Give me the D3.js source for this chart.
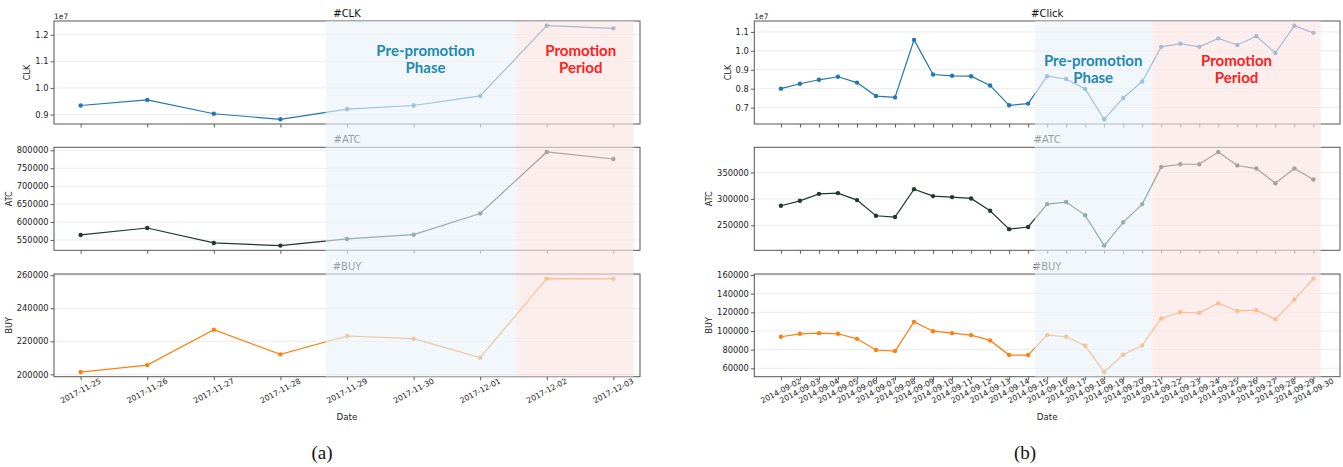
<!DOCTYPE html>
<html><head><meta charset="utf-8">
<script src="https://cdn.jsdelivr.net/npm/d3@7"></script>
<style>body{margin:0;background:#fff;} svg{display:block;}</style>
</head><body>
<svg id="c" width="1343" height="467"></svg>
<script>
// ---------- data ----------
const datesA = ["2017-11-25","2017-11-26","2017-11-27","2017-11-28","2017-11-29","2017-11-30","2017-12-01","2017-12-02","2017-12-03"];
const clkA = [9.34e6, 9.55e6, 9.03e6, 8.82e6, 9.20e6, 9.34e6, 9.70e6, 12.34e6, 12.24e6];
const atcA = [563900, 583300, 541700, 534200, 552800, 564700, 623900, 795300, 775800];
const buyA = [201400, 205600, 227000, 212100, 223200, 221600, 210100, 257900, 257800];

const datesB = ["2014-09-02","2014-09-03","2014-09-04","2014-09-05","2014-09-06","2014-09-07","2014-09-08","2014-09-09","2014-09-10","2014-09-11","2014-09-12","2014-09-13","2014-09-14","2014-09-15","2014-09-16","2014-09-17","2014-09-18","2014-09-19","2014-09-20","2014-09-21","2014-09-22","2014-09-23","2014-09-24","2014-09-25","2014-09-26","2014-09-27","2014-09-28","2014-09-29","2014-09-30"];
const clkB = [8.00e6, 8.26e6, 8.47e6, 8.63e6, 8.32e6, 7.61e6, 7.54e6, 10.58e6, 8.75e6, 8.68e6, 8.66e6, 8.17e6, 7.12e6, 7.21e6, 8.66e6, 8.51e6, 7.98e6, 6.38e6, 7.51e6, 8.38e6, 10.21e6, 10.38e6, 10.21e6, 10.66e6, 10.31e6, 10.77e6, 9.89e6, 11.33e6, 10.95e6];
const atcB = [287000, 296400, 309600, 311000, 297700, 268100, 265700, 318500, 305300, 303400, 300900, 277500, 242700, 246800, 290200, 294000, 268900, 211500, 255700, 290200, 360600, 365700, 365700, 388900, 363200, 357500, 329800, 357500, 336800];
const buyB = [93800, 97000, 97700, 97000, 91600, 79600, 78500, 109800, 99800, 97700, 95600, 89900, 74200, 74200, 95600, 93800, 84100, 56000, 74500, 84600, 113400, 120100, 119400, 129800, 121500, 122300, 112700, 133700, 156100];

const clkTicksA = [0.9e7, 1.0e7, 1.1e7, 1.2e7];
const atcTicksA = [550000, 600000, 650000, 700000, 750000, 800000];
const buyTicksA = [200000, 220000, 240000, 260000];
const clkTicksB = [0.7e7, 0.8e7, 0.9e7, 1.0e7, 1.1e7];
const atcTicksB = [250000, 300000, 350000];
const buyTicksB = [60000, 80000, 100000, 120000, 140000, 160000];

const titlesA = ["#CLK", "#ATC", "#BUY"];
const titlesB = ["#Click", "#ATC", "#BUY"];
const yLabels = ["CLK", "ATC", "BUY"];
const phaseLabels = [["Pre-promotion", "Phase"], ["Promotion", "Period"]];
const subCaptions = ["(a)", "(b)"];
// phase boundaries, in date-index units
const phasesA = [3.68, 6.54, 8.3];
const phasesB = [13.35, 19.52, 28.39];
const labelPosA = [5.18, 7.51];
const labelPosB = [16.42, 23.96];

// ---------- styles ----------
const colors = ["#1f77b4", "#1c3b2b", "#ff7f0e"];
const svg = d3.select("#c");
const FONT = "DejaVu Sans";

const rowsY = [[21, 124], [147.3, 250.3], [274, 376.7]];

function drawChart(cfg) {
  const { x0, x1, dates, series, ticks, titles, phases, labelPos, caption, capX, sci } = cfg;
  const n = dates.length;
  const pad = (n - 1) * 0.05;
  const x = d3.scaleLinear().domain([-pad, n - 1 + pad]).range([x0, x1]);
  const g = svg.append("g");

  series.forEach((vals, k) => {
    const [y0, y1] = rowsY[k];
    const mn = d3.min(vals), mx = d3.max(vals), m = (mx - mn) * 0.05;
    const y = d3.scaleLinear().domain([mn - m, mx + m]).range([y1, y0]);
    const p = g.append("g");
    // grid
    p.selectAll("line.grid").data(ticks[k]).join("line")
      .attr("x1", x0).attr("x2", x1).attr("y1", d => y(d)).attr("y2", d => y(d))
      .attr("stroke", "#ebebeb").attr("stroke-width", 1);
    // y axis
    const fmt = (k === 0) ? (d => (d / 1e7).toFixed(1)) : (d => String(d));
    const ya = p.append("g").attr("transform", `translate(${x0},0)`)
      .call(d3.axisLeft(y).tickValues(ticks[k]).tickFormat(fmt).tickSize(3.5).tickPadding(2));
    ya.select(".domain").remove();
    ya.selectAll("line").attr("stroke", "#333").attr("stroke-width", 0.8);
    ya.selectAll("text").attr("font-family", FONT).attr("font-size", 8.3).attr("fill", "#222");
    const bb = ya.node().getBBox();
    // x axis
    const xa = p.append("g").attr("transform", `translate(0,${y1})`)
      .call(d3.axisBottom(x).tickValues(d3.range(n)).tickFormat("").tickSize(3.5));
    xa.select(".domain").remove();
    xa.selectAll("line").attr("stroke", "#333").attr("stroke-width", 0.8);
    if (k === 2) {
      p.append("g").selectAll("text").data(dates).join("text")
        .attr("transform", (d, i) => `translate(${x(i)},${y1 + 14}) rotate(-28)`)
        .attr("text-anchor", "middle").attr("dy", "0.35em")
        .attr("font-family", FONT).attr("font-size", 7.7).attr("fill", "#222")
        .text(d => d);
      p.append("text").attr("x", (x0 + x1) / 2).attr("y", y1 + 43)
        .attr("text-anchor", "middle").attr("font-family", FONT).attr("font-size", 8.7)
        .attr("fill", "#222").text("Date");
    }
    // y label
    p.append("text")
      .attr("transform", `translate(${x0 + bb.x - 5},${(y0 + y1) / 2}) rotate(-90)`)
      .attr("text-anchor", "middle").attr("font-family", FONT).attr("font-size", 8)
      .attr("fill", "#222").text(yLabels[k]);
    if (k === 0) {
      p.append("text").attr("x", x0).attr("y", y0 - 2)
        .attr("font-family", FONT).attr("font-size", 7.5).attr("fill", "#222").text(sci);
    }
    // title
    p.append("text").attr("x", (x0 + x1) / 2).attr("y", y0 - 4)
      .attr("text-anchor", "middle").attr("font-family", FONT).attr("font-size", 10)
      .attr("fill", "#111").text(titles[k]);
    // line + markers
    const line = d3.line().x((d, i) => x(i)).y(d => y(d));
    p.append("path").datum(vals).attr("d", line).attr("fill", "none")
      .attr("stroke", colors[k]).attr("stroke-width", 1.2);
    p.selectAll("circle").data(vals).join("circle")
      .attr("cx", (d, i) => x(i)).attr("cy", d => y(d)).attr("r", 2.2)
      .attr("fill", colors[k]);
    // frame
    p.append("rect").attr("x", x0).attr("y", y0).attr("width", x1 - x0).attr("height", y1 - y0)
      .attr("fill", "none").attr("stroke", "#555").attr("stroke-width", 1);
  });

  // phase overlays
  const top = rowsY[0][0], bot = rowsY[2][1];
  g.append("rect").attr("x", x(phases[0])).attr("y", top)
    .attr("width", x(phases[1]) - x(phases[0])).attr("height", bot - top)
    .attr("fill", "#e9f2f8").attr("fill-opacity", 0.62);
  g.append("rect").attr("x", x(phases[1])).attr("y", top)
    .attr("width", x(phases[2]) - x(phases[1])).attr("height", bot - top)
    .attr("fill", "#fce4e4").attr("fill-opacity", 0.62);

  const lblColors = ["#1f88b4", "#ff2020"];
  const baseY = cfg.labelY;
  phaseLabels.forEach((lines, j) => {
    lines.forEach((t, li) => {
      g.append("text").attr("x", x(labelPos[j])).attr("y", baseY + li * 17)
        .attr("text-anchor", "middle").attr("font-family", "Lato").attr("font-weight", "bold")
        .attr("font-size", 15).attr("fill", lblColors[j]).text(t);
    });
  });

  svg.append("text").attr("x", capX).attr("y", 459).attr("text-anchor", "middle")
    .attr("font-family", "Liberation Serif").attr("font-size", 19).attr("fill", "#111").text(caption);
}

drawChart({ x0: 54, x1: 640, dates: datesA, series: [clkA, atcA, buyA],
  ticks: [clkTicksA, atcTicksA, buyTicksA], titles: titlesA, phases: phasesA,
  labelPos: labelPosA, labelY: 56, caption: subCaptions[0], capX: 322, sci: "1e7" });
drawChart({ x0: 754.3, x1: 1340, dates: datesB, series: [clkB, atcB, buyB],
  ticks: [clkTicksB, atcTicksB, buyTicksB], titles: titlesB, phases: phasesB,
  labelPos: labelPosB, labelY: 66, caption: subCaptions[1], capX: 1025, sci: "1e7" });
</script>
</body></html>
